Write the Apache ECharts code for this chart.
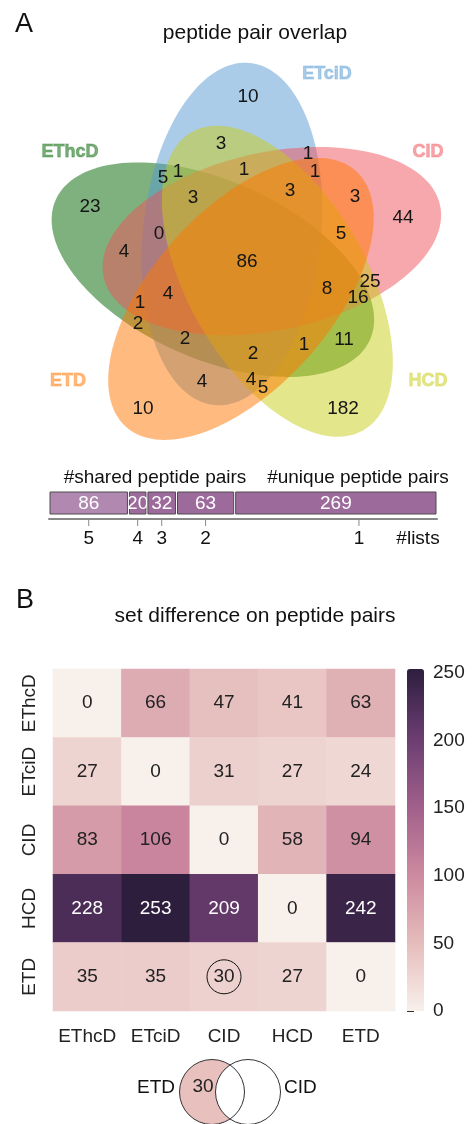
<!DOCTYPE html>
<html>
<head>
<meta charset="UTF-8">
<title>peptide pairs</title>
<script src="https://cdn.jsdelivr.net/npm/echarts@6.0.0/dist/echarts.min.js"></script>
<style>
  html, body { margin: 0; padding: 0; background: #fff; }
  #main { width: 472px; height: 1124px; }
</style>
</head>
<body>
<div id="main"></div>
<script>
  // A: five set venn, sets listed clockwise starting at the top ellipse
  var vennSets = ['ETciD', 'CID', 'HCD', 'ETD', 'EThcD'];
  var vennCounts = [10, 3, 1, 5, 1, 1, 1, 3, 3, 3, 23, 44, 0, 5, 4, 86, 25, 8, 16,
                    4, 1, 2, 2, 11, 1, 2, 4, 4, 5, 10, 182];
  // where each count sits, in venn units (centre = 0,0, y up)
  var vennCountPos = [
    [0.005, 0.84], [-0.13, 0.605], [0.305, 0.555], [-0.42, 0.435], [-0.345, 0.465],
    [-0.015, 0.475], [0.34, 0.465], [-0.27, 0.335], [0.215, 0.37], [0.54, 0.34],
    [-0.785, 0.29], [0.78, 0.235], [-0.44, 0.155], [0.47, 0.155], [-0.615, 0.065],
    [0, 0.015], [0.615, -0.085], [0.4, -0.12], [0.555, -0.165], [-0.395, -0.145],
    [-0.535, -0.19], [-0.545, -0.295], [-0.31, -0.37], [0.485, -0.375], [0.285, -0.4],
    [0.03, -0.445], [-0.225, -0.585], [0.02, -0.575], [0.08, -0.615], [-0.52, -0.72],
    [0.48, -0.72]
  ];
  var vennSetLabelPos = [[0.4, 0.955], [0.905, 0.565], [0.905, -0.58], [-0.895, -0.58], [-0.885, 0.565]];

  // bar under the venn
  var overlapLists = ['5', '4', '3', '2', '1'];
  var overlapCounts = [86, 20, 32, 63, 269];

  // B: set difference heatmap (row minus column)
  var methods = ['EThcD', 'ETciD', 'CID', 'HCD', 'ETD'];
  var setDiff = [
    [0, 66, 47, 41, 63],
    [27, 0, 31, 27, 24],
    [83, 106, 0, 58, 94],
    [228, 253, 209, 0, 242],
    [35, 35, 30, 27, 0]
  ];
  var colorTicks = [0, 50, 100, 150, 200, 250];
  var pickRow = 'ETD', pickCol = 'CID';

  var FONT = '"Liberation Sans", Arial, sans-serif';
  var setColors = ['#5599d1', '#ef5159', '#c9cd19', '#ff7700', '#006400'];
  var drawOrder = [4, 0, 1, 2, 3];
  var ellOffset = [-0.075, 0.155], ellA = 0.86, ellB = 0.445, ellTilt = 84;
  var barColors = ['#b088b0', '#9d6b9b', '#9d6b9b', '#9d6b9b', '#9d6b9b'];
  var heatColors = ['#f8f0eb', '#e5bcbb', '#cc899f', '#a05f8a', '#6a3d70', '#2d1e3e'];

  var mChart = echarts.init(document.getElementById('main'));

  function ellipseRender(params, api) {
    var k = api.value(0);
    var rot = -72 * k * Math.PI / 180;
    var cx = ellOffset[0] * Math.cos(rot) - ellOffset[1] * Math.sin(rot);
    var cy = ellOffset[0] * Math.sin(rot) + ellOffset[1] * Math.cos(rot);
    var th = ellTilt * Math.PI / 180 + rot;
    var pts = [];
    for (var i = 0; i < 160; i++) {
      var t = 2 * Math.PI * i / 160;
      var lx = ellA * Math.cos(t), ly = ellB * Math.sin(t);
      pts.push(api.coord([cx + lx * Math.cos(th) - ly * Math.sin(th),
                          cy + lx * Math.sin(th) + ly * Math.cos(th)]));
    }
    return {
      type: 'polygon',
      shape: { points: pts },
      style: { fill: echarts.color.modifyAlpha(setColors[k], 0.5) }
    };
  }

  var barStarts = [];
  var acc = 0;
  overlapCounts.forEach(function (v) { barStarts.push(acc); acc += v; });

  var heatData = [];
  setDiff.forEach(function (row, r) {
    row.forEach(function (v, c) {
      heatData.push({ value: [c, r, v], label: { color: v > 150 ? '#fff' : '#222' } });
    });
  });

  var option = {
    animation: false,
    textStyle: { fontFamily: FONT },
    grid: [
      { left: 47, top: 65, width: 400, height: 400 },
      { left: 49, top: 492, width: 388, height: 22 },
      { left: 53, top: 669, width: 342, height: 342 },
      { left: 407, top: 669, width: 17, height: 342 }
    ],
    xAxis: [
      { gridIndex: 0, type: 'value', min: -1, max: 1, show: false },
      { gridIndex: 1, type: 'value', min: 0, max: 420, offset: 5,
        axisLine: { show: true, lineStyle: { color: '#888', width: 2 } },
        axisTick: { show: false }, axisLabel: { show: false }, splitLine: { show: false } },
      { gridIndex: 2, type: 'category', data: methods,
        axisLine: { show: false },
        axisTick: { alignWithLabel: true, length: 10, lineStyle: { color: '#333' } },
        axisLabel: { interval: 0, fontSize: 19, color: '#222', margin: 16, fontFamily: FONT } },
      { gridIndex: 3, type: 'value', show: false }
    ],
    yAxis: [
      { gridIndex: 0, type: 'value', min: -1, max: 1, show: false },
      { gridIndex: 1, type: 'category', data: [''], show: false },
      { gridIndex: 2, type: 'category', data: methods, inverse: true,
        axisLine: { show: false },
        axisTick: { alignWithLabel: true, length: 9, lineStyle: { color: '#333' } },
        axisLabel: { interval: 0, fontSize: 19, color: '#222', rotate: 90, margin: 14, fontFamily: FONT } },
      { gridIndex: 3, type: 'value', min: 0, max: 253, position: 'right',
        axisLine: { show: false }, splitLine: { show: false },
        axisTick: { show: true, length: 7, customValues: colorTicks, lineStyle: { color: '#333' } },
        axisLabel: { fontSize: 19, color: '#222', margin: 9, customValues: colorTicks, fontFamily: FONT } }
    ],
    visualMap: {
      type: 'continuous', seriesIndex: 4, dimension: 2,
      min: 0, max: 253, calculable: false, orient: 'vertical',
      left: 407, top: 669, itemWidth: 17, itemHeight: 342, padding: 0,
      text: null, showLabel: false,
      inRange: { color: heatColors }
    },
    graphic: [
      { type: 'text', x: 24, y: 25, style: { text: 'A', font: '27px ' + FONT, fill: '#111', align: 'center', verticalAlign: 'middle' } },
      { type: 'text', x: 255, y: 33, style: { text: 'peptide pair overlap', font: '21px ' + FONT, fill: '#111', align: 'center', verticalAlign: 'middle' } },
      { type: 'text', x: 155, y: 478, style: { text: '#shared peptide pairs', font: '19px ' + FONT, fill: '#111', align: 'center', verticalAlign: 'middle' } },
      { type: 'text', x: 358, y: 478, style: { text: '#unique peptide pairs', font: '19px ' + FONT, fill: '#111', align: 'center', verticalAlign: 'middle' } },
      { type: 'text', x: 418, y: 539, style: { text: '#lists', font: '19px ' + FONT, fill: '#111', align: 'center', verticalAlign: 'middle' } },
      { type: 'text', x: 25, y: 601, style: { text: 'B', font: '27px ' + FONT, fill: '#111', align: 'center', verticalAlign: 'middle' } },
      { type: 'text', x: 255, y: 616, style: { text: 'set difference on peptide pairs', font: '21px ' + FONT, fill: '#111', align: 'center', verticalAlign: 'middle' } },
      // little venn explaining one cell
      { type: 'circle', shape: { cx: 212, cy: 1092, r: 32.5 }, style: { fill: '#e8c0bd' } },
      { type: 'circle', shape: { cx: 248, cy: 1092, r: 32.5 }, style: { fill: '#fff', stroke: '#333', lineWidth: 1 } },
      { type: 'circle', shape: { cx: 212, cy: 1092, r: 32.5 }, style: { fill: null, stroke: '#333', lineWidth: 1 } },
      { type: 'text', x: 175, y: 1088, style: { text: pickRow, font: '19px ' + FONT, fill: '#111', align: 'right', verticalAlign: 'middle' } },
      { type: 'text', x: 203, y: 1087, style: { text: String(setDiff[methods.indexOf(pickRow)][methods.indexOf(pickCol)]), font: '19px ' + FONT, fill: '#222', align: 'center', verticalAlign: 'middle' } },
      { type: 'text', x: 284, y: 1088, style: { text: pickCol, font: '19px ' + FONT, fill: '#111', align: 'left', verticalAlign: 'middle' } }
    ],
    series: [
      {
        type: 'custom', xAxisIndex: 0, yAxisIndex: 0, silent: true,
        renderItem: ellipseRender,
        data: drawOrder.map(function (k) { return [k]; })
      },
      {
        type: 'custom', xAxisIndex: 0, yAxisIndex: 0, silent: true,
        renderItem: function (params, api) {
          var p = api.coord([api.value(0), api.value(1)]);
          return { type: 'text', x: p[0], y: p[1],
            style: { text: String(api.value(2)), font: '19px ' + FONT, fill: '#151515', align: 'center', verticalAlign: 'middle' } };
        },
        data: vennCountPos.map(function (p, i) { return [p[0], p[1], vennCounts[i]]; })
      },
      {
        type: 'custom', xAxisIndex: 0, yAxisIndex: 0, silent: true,
        renderItem: function (params, api) {
          var k = api.value(2);
          var p = api.coord([api.value(0), api.value(1)]);
          return { type: 'text', x: p[0], y: p[1],
            style: { text: vennSets[k], font: 'bold 18px ' + FONT,
              fill: echarts.color.modifyAlpha(setColors[k], 0.5),
              stroke: echarts.color.modifyAlpha(setColors[k], 0.35), lineWidth: 1,
              align: 'center', verticalAlign: 'middle' } };
        },
        data: vennSetLabelPos.map(function (p, k) { return [p[0], p[1], k]; })
      },
      {
        type: 'custom', xAxisIndex: 1, yAxisIndex: 1, silent: true,
        renderItem: function (params, api) {
          var cs = params.coordSys;
          var i = api.value(3);
          var s = api.coord([api.value(0), 0])[0];
          var e = api.coord([api.value(1), 0])[0];
          var mid = api.coord([(api.value(0) + api.value(1)) / 2, 0])[0];
          var x0 = s + 1, x1 = Math.min(e, cs.x + cs.width) - 1;
          var bottom = cs.y + cs.height;
          return { type: 'group', children: [
            { type: 'rect', shape: { x: x0, y: cs.y, width: x1 - x0, height: cs.height },
              style: { fill: barColors[i], stroke: '#4d4d4d', lineWidth: 1 } },
            { type: 'text', x: (x0 + x1) / 2, y: cs.y + cs.height / 2 + 1,
              style: { text: String(api.value(2)), font: '19px ' + FONT, fill: '#fff', align: 'center', verticalAlign: 'middle' } },
            { type: 'line', shape: { x1: mid, y1: bottom + 6, x2: mid, y2: bottom + 12 },
              style: { stroke: '#888', lineWidth: 1 } },
            { type: 'text', x: mid, y: bottom + 25,
              style: { text: overlapLists[i], font: '19px ' + FONT, fill: '#111', align: 'center', verticalAlign: 'middle' } }
          ] };
        },
        data: overlapCounts.map(function (v, i) { return [barStarts[i], barStarts[i] + v, v, i]; })
      },
      {
        type: 'heatmap', xAxisIndex: 2, yAxisIndex: 2,
        label: { show: true, fontSize: 19, fontFamily: FONT,
          formatter: function (p) { return p.value[2]; } },
        data: heatData
      },
      {
        type: 'custom', xAxisIndex: 2, yAxisIndex: 2, silent: true, z: 10,
        renderItem: function (params, api) {
          var p = api.coord([api.value(0), api.value(1)]);
          return { type: 'circle', shape: { cx: p[0], cy: p[1], r: 17 },
            style: { fill: null, stroke: '#111', lineWidth: 1 } };
        },
        data: [[methods.indexOf(pickCol), methods.indexOf(pickRow)]]
      }
    ]
  };
  mChart.setOption(option);
</script>
</body>
</html>
